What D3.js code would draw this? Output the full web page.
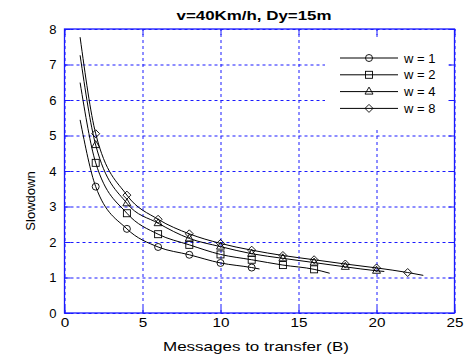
<!DOCTYPE html>
<html>
<head>
<meta charset="utf-8">
<script src="https://cdn.jsdelivr.net/npm/d3@7"></script>
<style>
  body { margin: 0; background: #fff; }
  text { font-family: "Liberation Sans", Arial, sans-serif; }
</style>
</head>
<body>
<div id="chart"></div>
<script>
// Data
const seriesNames = ["w = 1", "w = 2", "w = 4", "w = 8"];
const markX = [2, 4, 6, 8, 10, 12, 14, 16, 18, 20, 22];
const w1 = [3.56, 2.37, 1.86, 1.64, 1.41, 1.28];
const w2 = [4.23, 2.81, 2.22, 1.92, 1.65, 1.50, 1.35, 1.23];
const w4 = [4.73, 3.09, 2.53, 2.10, 1.87, 1.67, 1.54, 1.42, 1.30, 1.19];
const w8 = [5.05, 3.32, 2.64, 2.23, 1.96, 1.77, 1.62, 1.50, 1.38, 1.27, 1.14];
// where each curve begins (x=1) and stops
const startY = [5.44, 6.49, 7.26, 7.77];
const endX = [12.5, 17, 20.5, 23];
const endY = [1.24, 1.12, 1.17, 1.06];
const xTicks = [0, 5, 10, 15, 20, 25];
const yTicks = [0, 1, 2, 3, 4, 5, 6, 7, 8];

const width = 466, height = 358;
const margin = {top: 29, right: 11.5, bottom: 45, left: 64.5};
const chartWidth = width - margin.left - margin.right;
const chartHeight = height - margin.top - margin.bottom;
const blue = "#1a1aff";

let svg = d3.select("#chart")
  .append("svg")
  .attr("width", width)
  .attr("height", height);

let g = svg.append("g")
  .attr("transform", "translate(" + margin.left + "," + margin.top + ")");

let scaleX = d3.scaleLinear().domain([0, 25]).range([0, chartWidth]);
let scaleY = d3.scaleLinear().domain([0, 8]).range([chartHeight, 0]);

// grid lines
g.append("g")
  .attr("class", "grid")
  .attr("transform", "translate(0," + chartHeight + ")")
  .call(d3.axisBottom(scaleX).tickValues(xTicks).tickSize(-chartHeight).tickFormat(""));
g.append("g")
  .attr("class", "grid")
  .call(d3.axisLeft(scaleY).tickValues(yTicks).tickSize(-chartWidth).tickFormat(""));
g.selectAll(".grid .domain").remove();
g.selectAll(".grid line")
  .attr("stroke", blue)
  .attr("stroke-width", 1)
  .attr("stroke-dasharray", "3,3");

// legend box covers the grid
let legX = 325 - margin.left, legY = 40 - margin.top;
g.append("rect")
  .attr("x", legX)
  .attr("y", legY)
  .attr("width", 124)
  .attr("height", 88)
  .attr("fill", "#fff");

// axes with inner ticks
function styleAxis(sel) {
  sel.select(".domain").remove();
  sel.selectAll("line").attr("stroke", blue);
  sel.selectAll("text").attr("fill", "#000").style("font-size", "13px");
}
g.append("g")
  .attr("transform", "translate(0," + chartHeight + ")")
  .call(d3.axisBottom(scaleX).tickValues(xTicks).tickSize(-6).tickPadding(5))
  .call(styleAxis)
  .selectAll("text")
    .attr("textLength", function(d) { return d < 10 ? 8.5 : 17; })
    .attr("lengthAdjust", "spacingAndGlyphs");
g.append("g")
  .call(d3.axisTop(scaleX).tickValues(xTicks).tickSize(-6).tickFormat(""))
  .call(styleAxis);
g.append("g")
  .call(d3.axisLeft(scaleY).tickValues(yTicks).tickSize(-6).tickPadding(8))
  .call(styleAxis);
g.append("g")
  .attr("transform", "translate(" + chartWidth + ",0)")
  .call(d3.axisRight(scaleY).tickValues(yTicks).tickSize(-6).tickFormat(""))
  .call(styleAxis);

g.append("rect")
  .attr("width", chartWidth)
  .attr("height", chartHeight)
  .attr("fill", "none")
  .attr("stroke", blue)
  .attr("stroke-width", 1.3);

// series
const allY = [w1, w2, w4, w8];
const series = allY.map(function(vals, i) {
  let marks = vals.map(function(v, j) { return {x: markX[j], y: v}; });
  let pts = [{x: 1, y: startY[i]}].concat(marks).concat([{x: endX[i], y: endY[i]}]);
  return {name: seriesNames[i], marks: marks, pts: pts};
});

let line = d3.line()
  .x(function(d) { return scaleX(d.x); })
  .y(function(d) { return scaleY(d.y); })
  .curve(d3.curveMonotoneX);

function drawMarker(sel, i, x, y) {
  if (i == 0) {
    sel.append("circle").attr("cx", x).attr("cy", y).attr("r", 3.5);
  } else if (i == 1) {
    sel.append("rect").attr("x", x - 3.5).attr("y", y - 3.5).attr("width", 7).attr("height", 7);
  } else if (i == 2) {
    sel.append("path").attr("d", "M" + x + "," + (y - 4.5) + "L" + (x + 4) + "," + (y + 2.5) + "L" + (x - 4) + "," + (y + 2.5) + "Z");
  } else {
    sel.append("path").attr("d", "M" + x + "," + (y - 4) + "L" + (x + 4) + "," + y + "L" + x + "," + (y + 4) + "L" + (x - 4) + "," + y + "Z");
  }
}

series.forEach(function(s, i) {
  g.append("path")
    .datum(s.pts)
    .attr("d", line)
    .attr("fill", "none")
    .attr("stroke", "#000")
    .attr("stroke-width", 1);
  let mg = g.append("g").attr("fill", "none").attr("stroke", "#000").attr("stroke-width", 0.9);
  s.marks.forEach(function(d) {
    drawMarker(mg, i, scaleX(d.x), scaleY(d.y));
  });
});

// legend
series.forEach(function(s, i) {
  let ly = 58 - margin.top + i * 16.8;
  g.append("line")
    .attr("x1", 340 - margin.left).attr("x2", 398 - margin.left)
    .attr("y1", ly).attr("y2", ly)
    .attr("stroke", "#000");
  let mg = g.append("g").attr("fill", "none").attr("stroke", "#000").attr("stroke-width", 0.9);
  drawMarker(mg, i, 369 - margin.left, ly);
  g.append("text")
    .attr("x", 404 - margin.left)
    .attr("y", ly + 4.5)
    .style("font-size", "13px")
    .text(s.name);
});

// titles (the reference text is stretched sideways)
svg.append("text")
  .attr("x", 254)
  .attr("y", 20)
  .attr("text-anchor", "middle")
  .attr("textLength", 155)
  .attr("lengthAdjust", "spacingAndGlyphs")
  .style("font-size", "13px")
  .style("font-weight", "bold")
  .text("v=40Km/h, Dy=15m");

svg.append("text")
  .attr("x", 256)
  .attr("y", 351)
  .attr("text-anchor", "middle")
  .attr("textLength", 186)
  .attr("lengthAdjust", "spacingAndGlyphs")
  .style("font-size", "13px")
  .text("Messages to transfer (B)");

svg.append("text")
  .attr("transform", "translate(35,201) rotate(-90)")
  .attr("text-anchor", "middle")
  .style("font-size", "13px")
  .text("Slowdown");
</script>
</body>
</html>
